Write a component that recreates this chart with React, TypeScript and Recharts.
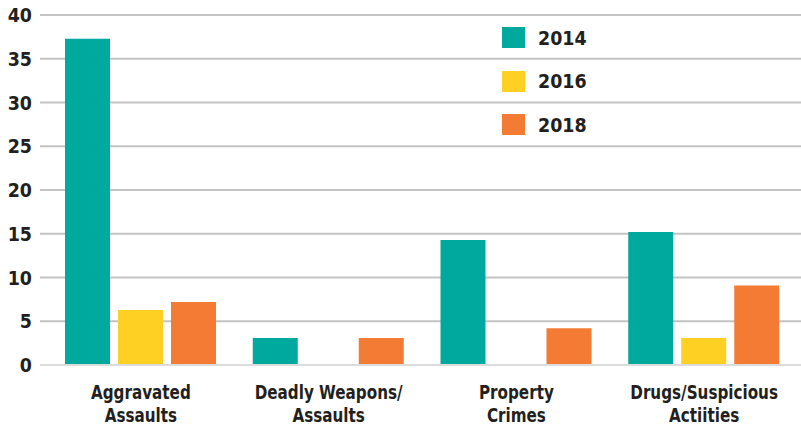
import React from 'react';
import { BarChart, Bar, XAxis, YAxis, CartesianGrid, ReferenceLine } from 'recharts';

const categories = ['Aggravated\nAssaults', 'Deadly Weapons/\nAssaults', 'Property\nCrimes', 'Drugs/Suspicious\nActiities'];
const values2014 = [37.3, 3.1, 14.3, 15.2];
const values2016 = [6.3, 0, 0, 3.1];
const values2018 = [7.2, 3.1, 4.2, 9.1];
const yTicks = [0, 5, 10, 15, 20, 25, 30, 35, 40];

const series = [
  { key: 'y2014', name: '2014', color: '#00a99d' },
  { key: 'y2016', name: '2016', color: '#fdd023' },
  { key: 'y2018', name: '2018', color: '#f47b34' },
];

const data = categories.map((c, i) => ({
  name: c,
  y2014: values2014[i],
  y2016: values2016[i],
  y2018: values2018[i],
}));

const FONT = '"DejaVu Sans", sans-serif';

const CategoryTick = (props: any) => {
  const { x, y, payload } = props;
  const lines = String(payload.value).split('\n');
  return (
    <g transform={`translate(${x},${y}) scale(0.8,1)`}>
      {lines.map((l, i) => (
        <text key={i} x={0} y={26 + i * 23} textAnchor="middle" fontFamily={FONT} fontWeight="bold" fontSize={19} fill="#231f20">
          {l}
        </text>
      ))}
    </g>
  );
};

const YTick = (props: any) => {
  const { x, y, payload } = props;
  return (
    <g transform={`translate(${x},${y}) scale(0.92,1)`}>
      <text x={0} y={7} textAnchor="end" fontFamily={FONT} fontWeight="bold" fontSize={19} fill="#231f20">
        {payload.value}
      </text>
    </g>
  );
};

export default function App() {
  return (
    <div style={{ position: 'absolute', left: 0, top: 0, width: 801, height: 428 }}>
      <BarChart width={801} height={428} data={data} margin={{ top: 15, right: 0, left: 0, bottom: 0 }} barGap={8}>
        <CartesianGrid vertical={false} stroke="#c3c3c6" strokeWidth={2} />
        <ReferenceLine y={0} stroke="#dcdcdc" strokeWidth={2} />
        <XAxis dataKey="name" axisLine={false} tickLine={false} height={63} padding={{ left: 7, right: 3 }} tick={<CategoryTick />} interval={0} />
        <YAxis width={40} domain={[0, 40]} ticks={yTicks} axisLine={false} tickLine={false} tick={<YTick />} />
        {series.map((s) => (
          <Bar key={s.key} dataKey={s.key} name={s.name} fill={s.color} barSize={45} isAnimationActive={false} />
        ))}
      </BarChart>
      <div style={{ position: 'absolute', left: 502, top: 16 }}>
        {series.map((s) => (
          <div key={s.key} style={{ display: 'flex', alignItems: 'center', height: 43.5 }}>
            <div style={{ width: 23, height: 21, background: s.color }} />
            <span
              style={{
                marginLeft: 13,
                fontFamily: FONT,
                fontWeight: 'bold',
                fontSize: 19,
                color: '#231f20',
                display: 'inline-block',
                transform: 'scaleX(0.92)',
                transformOrigin: 'left center',
              }}
            >
              {s.name}
            </span>
          </div>
        ))}
      </div>
    </div>
  );
}
